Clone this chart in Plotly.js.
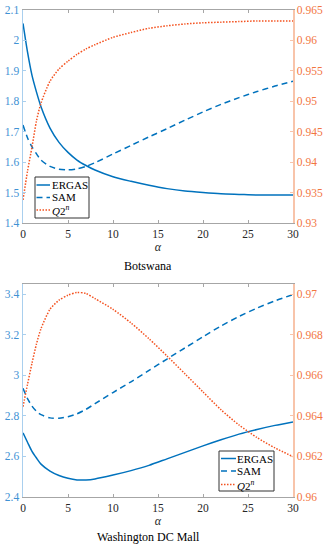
<!DOCTYPE html>
<html>
<head>
<meta charset="utf-8">
<script src="https://cdn.plot.ly/plotly-3.0.1.min.js"></script>
<style>html,body{margin:0;padding:0;background:#fff;}#chart{width:325px;height:550px;}</style>
</head>
<body>
<div id="chart"></div>
<script>
// alpha values (x)
const alpha = [0, 0.5, 1, 1.5, 2, 3, 4, 5, 6, 7, 8, 10, 12, 14, 16, 18, 20, 22, 24, 26, 28, 30];

// Botswana
const botErgas = [2.056, 1.962, 1.885, 1.83, 1.782, 1.712, 1.665, 1.632, 1.607, 1.589, 1.574, 1.552, 1.537, 1.524, 1.513, 1.505, 1.500, 1.496, 1.494, 1.492, 1.492, 1.492];
const botSam   = [1.722, 1.68, 1.65, 1.627, 1.607, 1.586, 1.577, 1.575, 1.578, 1.586, 1.598, 1.627, 1.655, 1.683, 1.71, 1.738, 1.765, 1.79, 1.812, 1.832, 1.85, 1.866];
const botQ2n   = [0.9338, 0.9385, 0.9425, 0.9468, 0.9497, 0.9533, 0.9553, 0.9566, 0.9577, 0.9586, 0.9593, 0.9605, 0.9613, 0.9620, 0.9624, 0.9627, 0.9629, 0.9630, 0.9631, 0.9632, 0.9632, 0.9632];

// Washington DC Mall
const wdcErgas = [2.716, 2.67, 2.625, 2.592, 2.562, 2.528, 2.506, 2.492, 2.484, 2.484, 2.489, 2.508, 2.53, 2.556, 2.588, 2.62, 2.652, 2.682, 2.71, 2.733, 2.753, 2.770];
const wdcSam   = [2.936, 2.885, 2.848, 2.822, 2.806, 2.79, 2.788, 2.796, 2.81, 2.832, 2.86, 2.915, 2.968, 3.024, 3.08, 3.135, 3.19, 3.243, 3.29, 3.331, 3.367, 3.398];
const wdcQ2n   = [0.96445, 0.96555, 0.9666, 0.96755, 0.9683, 0.96925, 0.9697, 0.96995, 0.97008, 0.97003, 0.96978, 0.96925, 0.96858, 0.9678, 0.96695, 0.96607, 0.96518, 0.9643, 0.96355, 0.96293, 0.96242, 0.96199];

// labels
const seriesNames = ['ERGAS', 'SAM', '<i>Q</i>2<sup><i>n</i></sup>'];
const panelNames = ['Botswana', 'Washington DC Mall'];
const xTitle = '<i>α</i>';

const FONT = 'Liberation Serif, Times New Roman, serif';
const BLUE = '#0072BD';
const ORANGE = '#f4511e';
const BLUE_LINE = '#a9cfee';
const BLUE_TXT = '#3f92d4';
const OR_LINE = '#f8c4aa';
const OR_TXT = '#f2763f';
const DASHES = ['solid', '6px,4px', '1.5px,1.5px'];
const COLORS = [BLUE, BLUE, ORANGE];

function mk(x, y, i, xa, ya) {
  return {
    x: x, y: y, name: seriesNames[i].replace(/<[^>]+>/g, ''), xaxis: xa, yaxis: ya, type: 'scatter', mode: 'lines',
    line: {color: COLORS[i], width: 1.5, dash: DASHES[i], shape: 'spline', smoothing: 0.7},
    showlegend: false, hoverinfo: 'skip'
  };
}

const data = [
  mk(alpha, botErgas, 0, 'x', 'y'),
  mk(alpha, botSam, 1, 'x', 'y'),
  mk(alpha, botQ2n, 2, 'x', 'y2'),
  mk(alpha, wdcErgas, 0, 'x2', 'y3'),
  mk(alpha, wdcSam, 1, 'x2', 'y3'),
  mk(alpha, wdcQ2n, 2, 'x2', 'y4')
];

function xax(anchor) {
  return {
    anchor: anchor, domain: [0, 1], range: [0, 30], dtick: 5, tick0: 0,
    showgrid: false, zeroline: false, showline: true, linecolor: '#a6a6a6', linewidth: 1,
    mirror: 'ticks', ticks: 'inside', ticklen: 3, tickcolor: '#a6a6a6',
    tickfont: {family: FONT, size: 11.5, color: '#262626'},
    title: {text: xTitle, font: {family: FONT, size: 12, color: '#262626'}, standoff: 2}
  };
}
function yl(anchor, domain, range, dtick) {
  return {
    anchor: anchor, domain: domain, range: range, dtick: dtick, tick0: range[0],
    showgrid: false, zeroline: false, showline: true, linecolor: BLUE_LINE, linewidth: 1.5,
    ticks: 'inside', ticklen: 3, tickcolor: BLUE_LINE,
    tickfont: {family: FONT, size: 11.5, color: BLUE_TXT}
  };
}
function yr(anchor, over, range, dtick) {
  return {
    anchor: anchor, overlaying: over, side: 'right', range: range, dtick: dtick, tick0: range[0],
    showgrid: false, zeroline: false, showline: true, linecolor: OR_LINE, linewidth: 1.5,
    ticks: 'inside', ticklen: 3, tickcolor: OR_LINE,
    tickfont: {family: FONT, size: 11.5, color: OR_TXT}
  };
}

// manual compact legends (pixel geometry converted to paper coords)
const ML = 23, PW = 270, PB = 497, PH = 487;
const px = v => (v - ML) / PW;
const py = v => (PB - v) / PH;
const shapes = [];
const annotations = [];
function legendBox(x0, y0, x1, y1, rows, lineX0, lineX1, textX) {
  shapes.push({type: 'rect', xref: 'paper', yref: 'paper', x0: px(x0), x1: px(x1), y0: py(y1), y1: py(y0),
    line: {color: '#333', width: 1}, fillcolor: '#fff', layer: 'above'});
  rows.forEach((ry, i) => {
    shapes.push({type: 'line', xref: 'paper', yref: 'paper', x0: px(lineX0), x1: px(lineX1), y0: py(ry), y1: py(ry),
      line: {color: COLORS[i], width: 1.5, dash: DASHES[i]}, layer: 'above'});
    annotations.push({text: seriesNames[i], xref: 'paper', yref: 'paper', x: px(textX), y: py(ry),
      xanchor: 'left', yanchor: 'middle', showarrow: false, font: {family: FONT, size: 11, color: '#000'}});
  });
}
legendBox(35, 177, 89, 218, [185, 197.5, 210], 36.5, 50, 50);
legendBox(219, 451, 274, 491, [458.5, 471, 484.5], 221, 236, 235);

annotations.push({text: panelNames[0], xref: 'paper', yref: 'paper', x: px(148), y: py(266), xanchor: 'center', yanchor: 'middle', showarrow: false, font: {family: FONT, size: 12, color: '#000'}});
annotations.push({text: panelNames[1], xref: 'paper', yref: 'paper', x: px(148), y: py(537), xanchor: 'center', yanchor: 'middle', showarrow: false, font: {family: FONT, size: 12, color: '#000'}});

const layout = {
  width: 325, height: 550,
  margin: {l: 23, r: 32, t: 10, b: 53},
  paper_bgcolor: '#fff', plot_bgcolor: '#fff',
  font: {family: FONT, size: 11.5, color: '#262626'},
  showlegend: false,
  xaxis: xax('y'),
  yaxis: yl('x', [0.5626, 1], [1.4, 2.1], 0.1),
  yaxis2: yr('x', 'y', [0.93, 0.965], 0.005),
  xaxis2: xax('y3'),
  yaxis3: yl('x2', [0, 0.4374], [2.4, 3.45], 0.2),
  yaxis4: yr('x2', 'y3', [0.96, 0.9705], 0.002),
  shapes: shapes,
  annotations: annotations
};

Plotly.newPlot('chart', data, layout, {staticPlot: true, displayModeBar: false});
</script>
</body>
</html>
